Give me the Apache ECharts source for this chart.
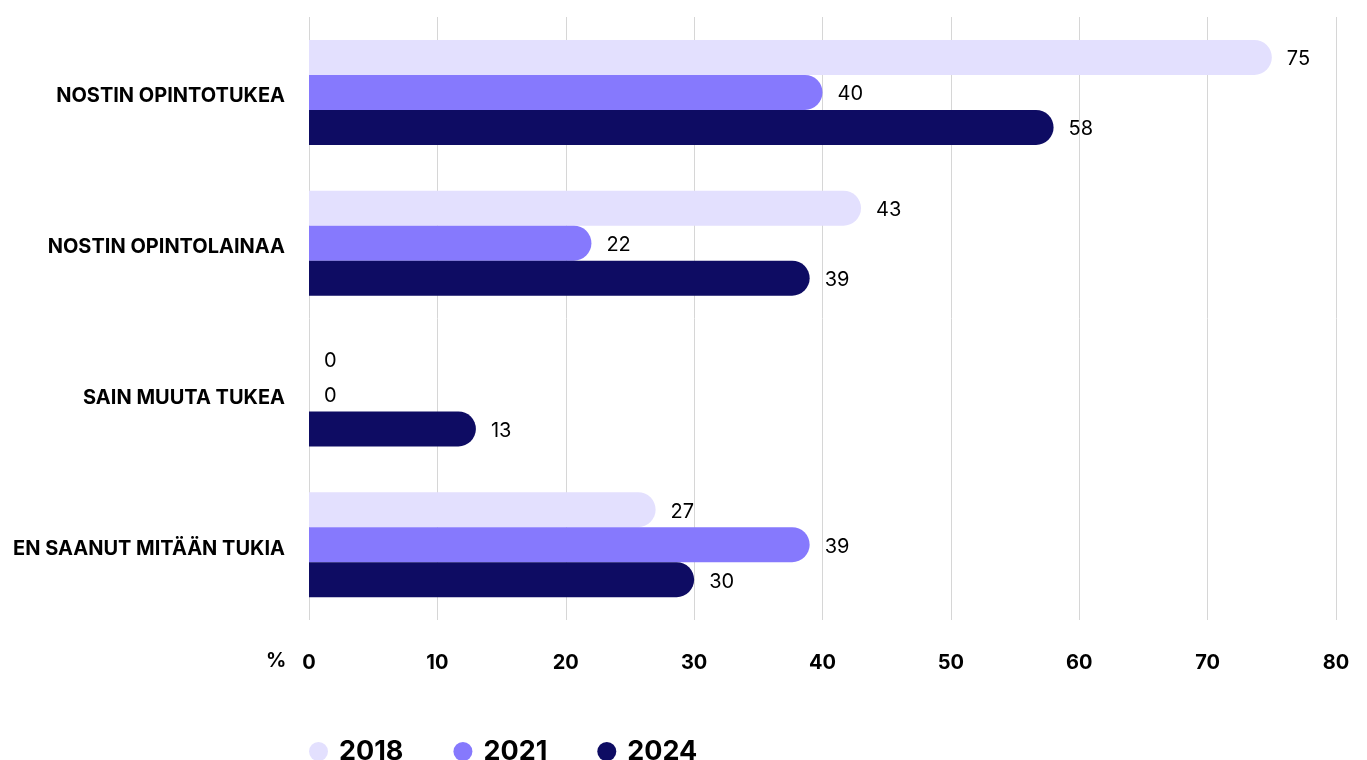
<!DOCTYPE html>
<html>
<head>
<meta charset="utf-8">
<script src="https://cdn.jsdelivr.net/npm/echarts@6/dist/echarts.min.js"></script>
<style>
  html, body { margin: 0; padding: 0; background: #fff; }
  #chart { width: 1367px; height: 760px; }
</style>
</head>
<body>
<div id="chart"></div>
<script>
// kategoriat ylhäältä alas
const categories = ['NOSTIN OPINTOTUKEA', 'NOSTIN OPINTOLAINAA', 'SAIN MUUTA TUKEA', 'EN SAANUT MITÄÄN TUKIA']
const years = ['2018', '2021', '2024']
const values2018 = [75, 43, 0, 27]
const values2021 = [40, 22, 0, 39]
const values2024 = [58, 39, 13, 30]
const xTicks = [0, 10, 20, 30, 40, 50, 60, 70, 80]

const colors = ['#E3E0FE', '#8679FD', '#0E0C63']
const seriesData = [values2018, values2021, values2024]

const myEchart = echarts.init(document.getElementById('chart'))

const option = {
  animation: false,
  color: colors,
  grid: {
    left: 309,
    right: 31,
    top: 17,
    bottom: 140,
    containLabel: false
  },
  legend: {
    data: years,
    left: 304,
    top: 733,
    icon: 'circle',
    itemWidth: 19,
    itemHeight: 19,
    itemGap: 50,
    textStyle: {
      fontFamily: 'Inter',
      fontWeight: 700,
      fontSize: 27,
      color: '#000',
      padding: [0, 0, 0, 6]
    }
  },
  xAxis: {
    type: 'value',
    min: xTicks[0],
    max: xTicks[xTicks.length - 1],
    interval: 10,
    axisLine: { show: false },
    axisTick: { show: false },
    splitLine: { lineStyle: { color: '#d6d6d6', width: 1 } },
    axisLabel: {
      margin: 33,
      fontFamily: 'Inter',
      fontWeight: 700,
      fontSize: 20,
      color: '#000'
    }
  },
  yAxis: {
    type: 'category',
    data: categories,
    inverse: true,
    axisLine: { show: false },
    axisTick: { show: false },
    axisLabel: {
      margin: 24,
      fontFamily: 'Inter',
      fontWeight: 700,
      fontSize: 20,
      color: '#000',
      verticalAlign: 'top',
      lineHeight: 20,
      padding: [-6, 0, 0, 0]
    }
  },
  graphic: [
    {
      type: 'text',
      left: 266,
      top: 651,
      style: {
        text: '%',
        font: '700 20px Inter',
        fill: '#000'
      }
    }
  ],
  series: years.map((name, i) => ({
    name: name,
    type: 'bar',
    data: seriesData[i],
    barWidth: 35,
    barGap: '0%',
    barCategoryGap: '30%',
    itemStyle: {
      color: colors[i],
      borderRadius: [0, 17.5, 17.5, 0]
    },
    label: {
      show: true,
      position: 'right',
      distance: 15,
      offset: [0, 2],
      fontFamily: 'Inter',
      fontSize: 20,
      color: '#000'
    }
  }))
}

myEchart.setOption(option)
</script>
</body>
</html>
